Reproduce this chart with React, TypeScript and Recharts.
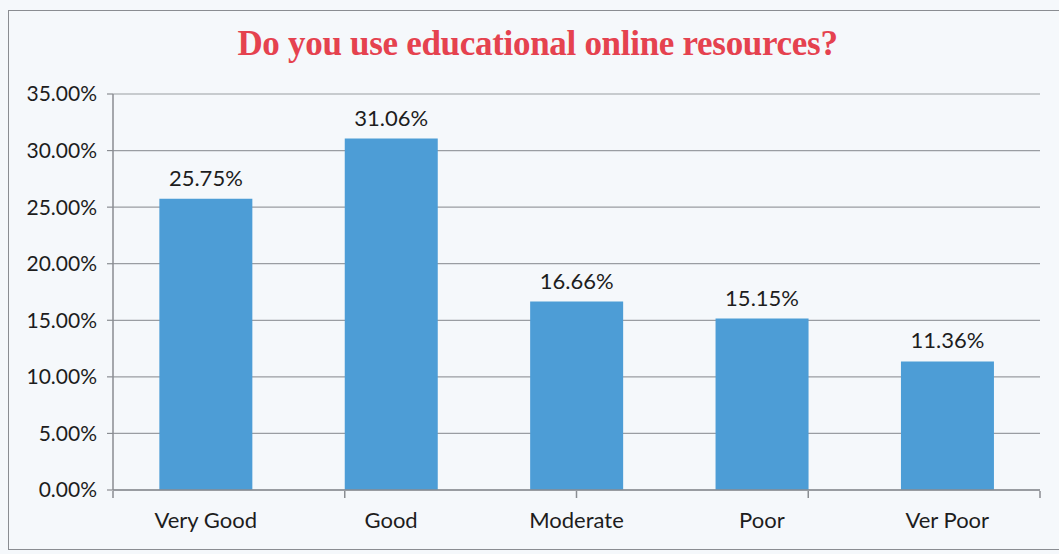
import React from "react";
import {
  BarChart,
  Bar,
  CartesianGrid,
  XAxis,
  YAxis,
  LabelList,
} from "recharts";

const categories = ["Very Good", "Good", "Moderate", "Poor", "Ver Poor"];
const shares = [25.75, 31.06, 16.66, 15.15, 11.36];
const yTicks = [0, 5, 10, 15, 20, 25, 30, 35];
const edgeTicks = [0, 1, 2, 3, 4, 5];

const data = categories.map((name, i) => ({ name, value: shares[i] }));

const pct = (v: any) => `${Number(v).toFixed(2)}%`;

const FONT = "Lato, 'Open Sans', sans-serif";
const AXIS = "#8a8d92";

const App: React.FC = () => {
  return (
    <div
      style={{
        position: "absolute",
        left: 0,
        top: 0,
        width: 1059,
        height: 554,
        background: "#f5f8fb",
        overflow: "hidden",
      }}
    >
      <div
        style={{
          position: "absolute",
          left: 8,
          top: 10,
          width: 1060,
          height: 538,
          border: "1px solid " + AXIS,
        }}
      />
      <div
        style={{
          position: "absolute",
          left: 0,
          width: 1075,
          top: 24,
          textAlign: "center",
          fontFamily: "'Liberation Serif', 'DejaVu Serif', serif",
          fontWeight: "bold",
          fontSize: 35,
          color: "#e5424f",
          letterSpacing: -0.3,
        }}
      >
        Do you use educational online resources?
      </div>
      <div style={{ position: "absolute", left: 0, top: 0 }}>
        <BarChart
          width={1059}
          height={554}
          data={data}
          margin={{ top: 94, right: 19, bottom: 62, left: 13 }}
          barCategoryGap="25%"
        >
          <CartesianGrid vertical={false} stroke="#9a9da2" strokeWidth={1.2} />
          <XAxis
            dataKey="name"
            tickLine={false}
            axisLine={{ stroke: AXIS, strokeWidth: 1.5 }}
            tick={{ fill: "#1d1d1d", fontSize: 22, fontFamily: FONT }}
            tickMargin={16}
            interval={0}
            height={1}
          />
          {/* ticks between categories, Excel style */}
          <XAxis
            xAxisId="edges"
            type="number"
            domain={[0, 5]}
            ticks={edgeTicks}
            axisLine={false}
            tickLine={{ stroke: AXIS, strokeWidth: 1.5 }}
            tickSize={7}
            tickFormatter={() => ""}
            height={1}
          />
          <YAxis
            width={100}
            domain={[0, 35]}
            ticks={yTicks}
            tickFormatter={pct}
            axisLine={{ stroke: AXIS, strokeWidth: 1.5 }}
            tickLine={{ stroke: AXIS, strokeWidth: 1.2 }}
            tickSize={6}
            tickMargin={10}
            tick={{ fill: "#1d1d1d", fontSize: 21, fontFamily: FONT }}
          />
          <Bar dataKey="value" fill="#4d9dd6" isAnimationActive={false}>
            <LabelList
              dataKey="value"
              position="top"
              offset={13}
              formatter={pct}
              style={{ fill: "#1d1d1d", fontSize: 22, fontFamily: FONT }}
            />
          </Bar>
        </BarChart>
      </div>
    </div>
  );
};

export default App;
